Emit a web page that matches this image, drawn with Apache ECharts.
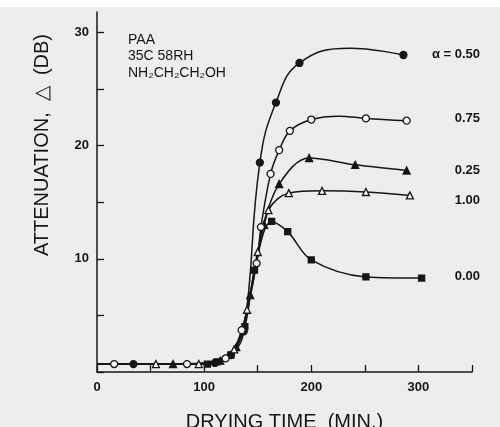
<!DOCTYPE html>
<html><head><meta charset="utf-8">
<script src="https://cdn.jsdelivr.net/npm/echarts@6/dist/echarts.min.js"></script>
<style>html,body{margin:0;padding:0;background:#ededed}#c{width:500px;height:427px}</style>
</head><body><div id="c"></div>
<script>
// Marked data points: [drying time (min), attenuation (dB)]
const alpha050 = [[34,0.7],[110,0.8],[125,1.5],[137,3.6],[152,18.5],[167,23.8],[189,27.3],[286,28.0]];
const alpha075 = [[16,0.7],[84,0.7],[120,1.2],[135,3.7],[149,9.6],[153,12.8],[162,17.5],[170,19.6],[180,21.3],[200,22.3],[251,22.4],[289,22.2]];
const alpha025 = [[71,0.7],[115,1.0],[130,2.2],[143,6.8],[156,13.0],[170,16.6],[198,18.9],[241,18.3],[289,17.8]];
const alpha100 = [[55,0.7],[95,0.7],[128,2.0],[140,5.5],[150,10.6],[160,14.3],[179,15.8],[210,16.0],[251,15.9],[292,15.6]];
const alpha000 = [[103,0.7],[112,0.9],[125,1.5],[138,4.0],[147,9.0],[163,13.3],[178,12.4],[200,9.9],[251,8.4],[303,8.3]];
// Unmarked points (line start at the axis, curve crests)
const baselineStart = [0,0.7];
const alpha050Crest = [[236,28.6]];
const alpha075Crest = [[226,22.6]];
const seriesLabels = ['α = 0.50','0.75','0.25','1.00','0.00'];
const xTickValues = [0,50,100,150,200,250,300,350];
const xLabelValues = [0,100,200,300];
const yTickValues = [0,5,10,15,20,25,30];
const yLabelValues = [10,20,30];
const annotation = ['PAA','35C 58RH','NH₂CH₂CH₂OH'];
const yTitle = 'ATTENUATION,  △  (DB)';
const xTitle = 'DRYING TIME  (MIN.)';

const FONT = '"Liberation Sans", Arial, Helvetica, sans-serif';
const INK = '#161616';
const BG = '#ededed';

function mk(marked, hidden, symbol, filled, size, smooth) {
  const pts = marked.map(p => ({value: p}))
    .concat([baselineStart].concat(hidden).map(p => ({value: p, symbol: 'none'})))
    .sort((a, b) => a.value[0] - b.value[0]);
  return {
    type: 'line', smooth: smooth, symbol: symbol, symbolSize: size,
    data: pts,
    lineStyle: {color: INK, width: 1.5},
    itemStyle: {color: filled ? INK : '#f6f6f6', borderColor: INK, borderWidth: 1.3},
    z: filled ? 3 : 4
  };
}

const chart = echarts.init(document.getElementById('c'));
const labelYs = [56, 120, 172, 202, 278];
chart.setOption({
  backgroundColor: BG,
  animation: false,
  grid: {left: 97, right: 28, top: 12, bottom: 55, outerBoundsMode: 'none', containLabel: false},
  xAxis: {
    type: 'value', min: 0, max: 350, interval: 50,
    axisLine: {show: true, lineStyle: {color: INK, width: 1.5}},
    axisTick: {show: true, inside: true, length: 7, customValues: xTickValues, lineStyle: {color: INK, width: 1.3}},
    axisLabel: {customValues: xLabelValues, color: INK, fontFamily: FONT, fontSize: 13, fontWeight: 'bold', margin: 9},
    splitLine: {show: false},
    name: xTitle, nameLocation: 'middle', nameGap: 40,
    nameTextStyle: {color: INK, fontFamily: FONT, fontSize: 20}
  },
  yAxis: {
    type: 'value', min: 0, max: 31.8, interval: 5,
    axisLine: {show: true, lineStyle: {color: INK, width: 1.5}},
    axisTick: {show: true, inside: true, length: 7, customValues: yTickValues, lineStyle: {color: INK, width: 1.3}},
    axisLabel: {customValues: yLabelValues, color: INK, fontFamily: FONT, fontSize: 13, fontWeight: 'bold', margin: 8},
    splitLine: {show: false}
  },
  series: [
    mk(alpha000, [], 'rect', true, 6, 0.35),
    mk(alpha100, [], 'triangle', false, 7, 0.35),
    mk(alpha025, [], 'triangle', true, 7, 0.35),
    mk(alpha075, alpha075Crest, 'circle', false, 7, 0.35),
    mk(alpha050, alpha050Crest, 'circle', true, 7, 0.45)
  ],
  graphic: [
    {type: 'rect', left: 0, top: 0, shape: {width: 500, height: 7}, style: {fill: '#ffffff'}, silent: true},
    {type: 'text', x: 42, y: 145, rotation: Math.PI / 2,
      style: {text: yTitle, fill: INK, font: '20px ' + FONT, align: 'center', verticalAlign: 'middle'}},
    ...annotation.map((t, i) => ({type: 'text', left: 128, top: 33 + i * 16.5,
      style: {text: t, fill: INK, font: '14px ' + FONT}})),
    ...seriesLabels.map((t, i) => ({type: 'text', right: 20, top: labelYs[i] - 8,
      style: {text: t, fill: INK, font: 'bold 13px ' + FONT}}))
  ]
});
</script></body></html>
